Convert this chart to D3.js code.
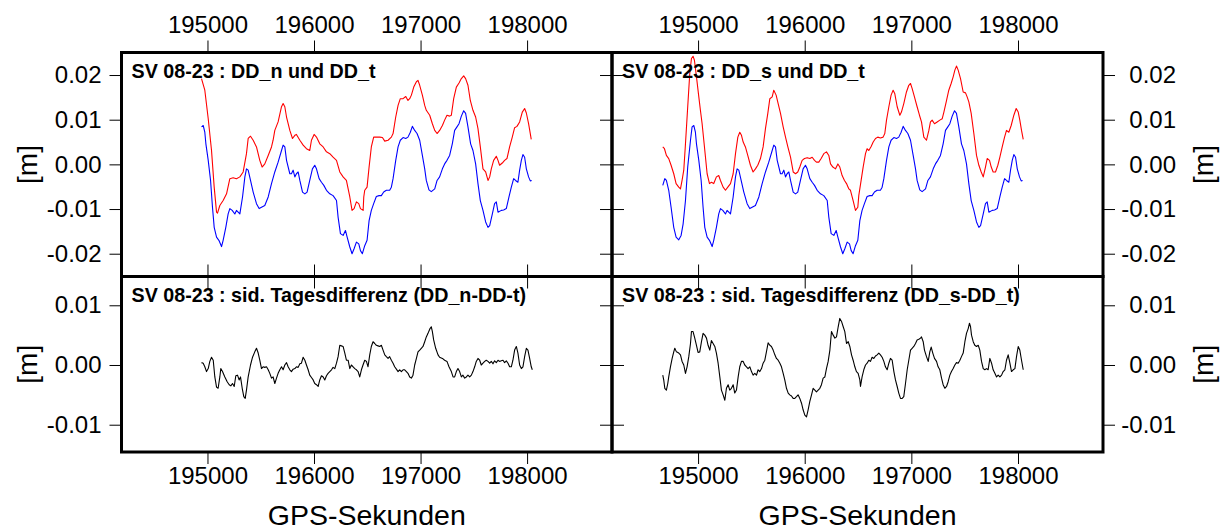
<!DOCTYPE html>
<html>
<head>
<meta charset="utf-8">
<script src="https://cdn.jsdelivr.net/npm/d3@7"></script>
<style>
  body { margin: 0; background: #fff; }
  svg { display: block; font-family: "Liberation Sans", Arial, Helvetica, sans-serif; }
</style>
</head>
<body>
<svg id="chart"></svg>
<script>
// tick values / labels
const xTicks = [195000, 196000, 197000, 198000];
const yTicksTop = [-0.02, -0.01, 0, 0.01, 0.02];
const yTicksBottom = [-0.01, 0, 0.01];
const xTitle = 'GPS-Sekunden';
const yTitle = '[m]';
const panelTitles = [
  'SV 08-23 : DD_n und DD_t',
  'SV 08-23 : DD_s und DD_t',
  'SV 08-23 : sid. Tagesdifferenz (DD_n-DD-t)',
  'SV 08-23 : sid. Tagesdifferenz (DD_s-DD_t)'
];

// [GPS seconds, metres]
const ddT = [[194669,-0.0047],[194688,-0.0032],[194703,-0.0036],[194725,-0.0058],[194747,-0.0096],[194772,-0.0141],[194794,-0.0163],[194819,-0.0169],[194841,-0.0159],[194860,-0.0133],
  [194882,-0.0081],[194903,-0.0006],[194929,0.0054],[194944,0.0084],[194960,0.0087],[194975,0.0072],[194985,0.0046],[195007,0.0009],[195029,-0.0036],[195047,-0.0096],
  [195063,-0.0141],[195085,-0.0163],[195107,-0.0170],[195132,-0.0184],[195147,-0.0170],[195172,-0.0141],[195194,-0.0111],[195210,-0.0099],[195232,-0.0103],[195257,-0.0111],
  [195272,-0.0103],[195288,-0.0107],[195304,-0.0111],[195329,-0.0073],[195351,-0.0028],[195366,-0.0010],[195382,-0.0013],[195404,-0.0036],[195429,-0.0062],[195460,-0.0088],
  [195485,-0.0099],[195507,-0.0096],[195538,-0.0092],[195570,-0.0073],[195601,-0.0043],[195632,-0.0017],[195663,0.0005],[195695,0.0031],[195710,0.0043],[195726,0.0039],
  [195742,0.0009],[195773,-0.0021],[195788,-0.0021],[195804,-0.0013],[195820,-0.0028],[195835,-0.0021],[195851,-0.0017],[195867,-0.0036],[195892,-0.0062],[195914,-0.0066],
  [195935,-0.0062],[195960,-0.0036],[195985,-0.0010],[196007,-0.0002],[196023,-0.0010],[196048,-0.0032],[196070,-0.0040],[196092,-0.0047],[196117,-0.0058],[196148,-0.0066],
  [196179,-0.0070],[196211,-0.0081],[196226,-0.0118],[196248,-0.0155],[196273,-0.0159],[196295,-0.0148],[196311,-0.0163],[196336,-0.0185],[196357,-0.0200],[196376,-0.0189],
  [196398,-0.0174],[196420,-0.0178],[196436,-0.0193],[196454,-0.0200],[196476,-0.0182],[196498,-0.0170],[196517,-0.0126],[196538,-0.0103],[196560,-0.0088],[196585,-0.0072],
  [196610,-0.0070],[196632,-0.0070],[196654,-0.0062],[196679,-0.0058],[196710,-0.0058],[196726,-0.0051],[196742,-0.0032],[196767,0.0009],[196789,0.0039],[196810,0.0054],
  [196836,0.0060],[196861,0.0058],[196882,0.0061],[196904,0.0072],[196923,0.0085],[196945,0.0076],[196967,0.0069],[196992,0.0054],[197017,0.0020],[197039,-0.0010],
  [197054,-0.0036],[197079,-0.0057],[197101,-0.0061],[197133,-0.0055],[197155,-0.0036],[197179,-0.0028],[197205,-0.0010],[197226,0.0001],[197248,0.0009],[197273,0.0020],
  [197298,0.0046],[197320,0.0076],[197342,0.0084],[197361,0.0091],[197383,0.0108],[197405,0.0120],[197423,0.0114],[197445,0.0084],[197470,0.0046],[197492,0.0031],
  [197517,0.0001],[197539,-0.0043],[197561,-0.0081],[197586,-0.0103],[197611,-0.0129],[197633,-0.0141],[197649,-0.0137],[197674,-0.0111],[197695,-0.0088],[197711,-0.0084],
  [197727,-0.0107],[197758,-0.0103],[197780,-0.0102],[197805,-0.0099],[197830,-0.0073],[197852,-0.0051],[197874,-0.0032],[197892,-0.0036],[197914,-0.0040],[197930,-0.0013],
  [197946,0.0009],[197961,0.0022],[197977,0.0016],[197993,-0.0010],[198014,-0.0028],[198030,-0.0037],[198043,-0.0036]];

const ddN = [[194944,0.0192],[194975,0.0166],[195007,0.0102],[195038,0.0031],[195063,-0.0051],[195085,-0.0107],[195094,-0.0109],[195116,-0.0092],[195147,-0.0081],[195179,-0.0066],
  [195210,-0.0032],[195241,-0.0030],[195272,-0.0032],[195304,-0.0028],[195335,-0.0017],[195366,0.0024],[195382,0.0058],[195404,0.0063],[195429,0.0054],[195460,0.0039],
  [195491,0.0009],[195513,-0.0006],[195538,0.0001],[195570,0.0020],[195601,0.0039],[195616,0.0054],[195632,0.0076],[195663,0.0095],[195695,0.0129],[195710,0.0136],
  [195726,0.0129],[195742,0.0106],[195773,0.0076],[195798,0.0058],[195820,0.0065],[195835,0.0067],[195867,0.0054],[195898,0.0043],[195929,0.0035],[195960,0.0031],
  [195976,0.0054],[196001,0.0067],[196023,0.0061],[196054,0.0046],[196086,0.0039],[196117,0.0028],[196148,0.0024],[196179,0.0016],[196211,0.0009],[196242,-0.0017],
  [196273,-0.0028],[196304,-0.0036],[196336,-0.0073],[196357,-0.0103],[196376,-0.0099],[196398,-0.0084],[196420,-0.0088],[196436,-0.0099],[196461,-0.0103],[196467,-0.0073],
  [196476,-0.0058],[196498,-0.0051],[196517,-0.0006],[196538,0.0039],[196560,0.0061],[196585,0.0061],[196617,0.0061],[196642,0.0060],[196664,0.0052],[196695,0.0054],
  [196726,0.0061],[196742,0.0069],[196767,0.0106],[196789,0.0132],[196810,0.0147],[196836,0.0147],[196861,0.0152],[196882,0.0143],[196898,0.0147],[196914,0.0155],
  [196936,0.0173],[196961,0.0185],[196976,0.0188],[196992,0.0177],[197017,0.0155],[197039,0.0132],[197054,0.0121],[197086,0.0110],[197111,0.0091],[197133,0.0076],
  [197155,0.0069],[197179,0.0076],[197205,0.0087],[197226,0.0099],[197248,0.0110],[197273,0.0108],[197289,0.0110],[197311,0.0147],[197336,0.0173],[197361,0.0182],
  [197383,0.0192],[197405,0.0198],[197423,0.0192],[197445,0.0177],[197467,0.0143],[197492,0.0121],[197517,0.0106],[197539,0.0080],[197561,0.0039],[197586,-0.0010],
  [197611,-0.0017],[197633,-0.0036],[197649,-0.0028],[197664,-0.0010],[197686,0.0009],[197711,0.0018],[197727,0.0009],[197742,-0.0002],[197767,0.0003],[197789,0.0009],
  [197811,0.0013],[197836,0.0039],[197861,0.0061],[197883,0.0082],[197905,0.0085],[197930,0.0095],[197955,0.0117],[197977,0.0125],[197993,0.0115],[198014,0.0091],
  [198030,0.0069],[198039,0.0056]];

const ddS = [[194669,0.0039],[194685,0.0035],[194703,0.0020],[194725,0.0013],[194747,-0.0002],[194772,-0.0021],[194794,-0.0043],[194819,-0.0051],[194835,-0.0055],[194850,-0.0036],
  [194866,-0.0013],[194882,0.0046],[194903,0.0129],[194922,0.0203],[194938,0.0237],[194953,0.0242],[194966,0.0233],[194985,0.0196],[195007,0.0151],[195022,0.0121],
  [195038,0.0091],[195060,0.0039],[195085,-0.0021],[195107,-0.0043],[195125,-0.0040],[195147,-0.0043],[195172,-0.0028],[195194,-0.0025],[195210,-0.0036],[195235,-0.0051],
  [195257,-0.0058],[195279,-0.0051],[195304,-0.0043],[195329,-0.0021],[195351,0.0024],[195373,0.0061],[195391,0.0072],[195407,0.0065],[195423,0.0050],[195444,0.0039],
  [195466,0.0020],[195491,-0.0002],[195516,-0.0017],[195538,-0.0010],[195560,-0.0002],[195585,0.0013],[195610,0.0039],[195632,0.0080],[195654,0.0114],[195673,0.0147],
  [195695,0.0151],[195710,0.0166],[195732,0.0155],[195751,0.0136],[195773,0.0114],[195798,0.0084],[195820,0.0061],[195842,0.0039],[195867,0.0016],[195892,-0.0017],
  [195914,-0.0021],[195935,-0.0017],[195954,-0.0006],[195976,0.0009],[195998,0.0013],[196023,0.0015],[196048,0.0013],[196070,0.0016],[196092,0.0009],[196110,0.0005],
  [196132,0.0005],[196154,0.0013],[196179,0.0024],[196204,0.0028],[196226,0.0020],[196242,0.0001],[196264,-0.0006],[196289,-0.0010],[196311,0.0001],[196329,-0.0006],
  [196351,-0.0025],[196373,-0.0036],[196392,-0.0043],[196414,-0.0055],[196429,-0.0058],[196454,-0.0081],[196476,-0.0103],[196498,-0.0096],[196507,-0.0070],[196529,-0.0036],
  [196548,-0.0006],[196570,0.0024],[196585,0.0035],[196601,0.0031],[196623,0.0040],[196642,0.0050],[196664,0.0058],[196685,0.0061],[196710,0.0059],[196735,0.0061],
  [196751,0.0069],[196767,0.0099],[196789,0.0129],[196810,0.0155],[196829,0.0166],[196845,0.0158],[196867,0.0129],[196892,0.0110],[196907,0.0117],[196929,0.0136],
  [196954,0.0162],[196976,0.0177],[196992,0.0181],[197007,0.0170],[197029,0.0151],[197054,0.0129],[197076,0.0110],[197095,0.0095],[197117,0.0061],[197142,0.0054],
  [197164,0.0076],[197179,0.0095],[197195,0.0099],[197217,0.0091],[197242,0.0095],[197267,0.0099],[197289,0.0102],[197305,0.0117],[197330,0.0143],[197351,0.0166],
  [197373,0.0181],[197392,0.0196],[197408,0.0211],[197423,0.0220],[197439,0.0211],[197461,0.0192],[197486,0.0162],[197508,0.0160],[197523,0.0151],[197539,0.0140],
  [197561,0.0114],[197586,0.0069],[197611,0.0020],[197633,-0.0002],[197655,-0.0017],[197674,-0.0028],[197695,-0.0006],[197711,0.0013],[197733,0.0009],[197749,-0.0006],
  [197767,-0.0017],[197789,-0.0017],[197811,-0.0002],[197830,0.0016],[197852,0.0039],[197874,0.0061],[197892,0.0076],[197914,0.0072],[197936,0.0087],[197961,0.0110],
  [197983,0.0125],[198002,0.0117],[198017,0.0099],[198033,0.0076],[198049,0.0056]];

const diffN = [[194944,0.0004],[194960,0.0003],[194975,-0.0003],[194991,-0.0011],[195007,-0.0006],[195022,0.0006],[195038,0.0013],[195054,0.0008],[195069,-0.0020],[195085,-0.0037],
  [195100,-0.0039],[195116,-0.0020],[195125,-0.0006],[195141,-0.0011],[195163,-0.0020],[195185,-0.0028],[195204,-0.0033],[195219,-0.0035],[195235,-0.0031],[195251,-0.0036],
  [195266,-0.0018],[195282,-0.0017],[195297,-0.0025],[195310,-0.0020],[195326,-0.0039],[195341,-0.0053],[195354,-0.0056],[195366,-0.0042],[195382,-0.0020],[195404,0.0000],
  [195423,0.0013],[195444,0.0022],[195460,0.0028],[195476,0.0020],[195491,0.0008],[195507,-0.0006],[195522,-0.0003],[195538,-0.0004],[195554,-0.0003],[195570,-0.0008],
  [195585,-0.0014],[195601,-0.0022],[195616,-0.0020],[195632,-0.0031],[195648,-0.0022],[195663,-0.0014],[195679,-0.0008],[195695,-0.0003],[195710,-0.0008],[195726,0.0000],
  [195742,0.0004],[195757,-0.0003],[195773,-0.0008],[195788,-0.0011],[195804,-0.0007],[195820,-0.0006],[195835,-0.0003],[195851,-0.0004],[195867,0.0002],[195882,0.0003],
  [195898,0.0013],[195914,0.0008],[195929,0.0000],[195945,-0.0008],[195960,-0.0017],[195976,-0.0021],[195992,-0.0025],[196007,-0.0031],[196023,-0.0033],[196039,-0.0036],
  [196054,-0.0025],[196070,-0.0018],[196086,-0.0020],[196101,-0.0025],[196117,-0.0018],[196132,-0.0014],[196148,-0.0011],[196164,-0.0008],[196179,-0.0004],[196195,-0.0006],
  [196211,0.0003],[196226,0.0014],[196242,0.0033],[196257,0.0032],[196273,0.0031],[196289,0.0020],[196304,0.0008],[196320,0.0008],[196336,-0.0006],[196351,0.0000],
  [196367,-0.0003],[196383,-0.0006],[196398,-0.0008],[196414,-0.0011],[196429,-0.0020],[196445,-0.0008],[196460,0.0000],[196476,0.0008],[196492,0.0006],[196507,-0.0003],
  [196523,0.0017],[196538,0.0031],[196554,0.0039],[196570,0.0036],[196585,0.0033],[196601,0.0032],[196617,0.0031],[196632,0.0033],[196648,0.0025],[196664,0.0017],
  [196679,0.0014],[196695,0.0011],[196710,0.0014],[196726,0.0008],[196742,0.0003],[196757,-0.0003],[196773,-0.0007],[196789,-0.0011],[196804,-0.0008],[196820,-0.0011],
  [196836,-0.0008],[196851,-0.0008],[196867,-0.0011],[196882,-0.0014],[196898,-0.0020],[196914,-0.0022],[196929,-0.0017],[196945,0.0000],[196961,0.0011],[196976,0.0022],
  [196992,0.0025],[197007,0.0028],[197023,0.0031],[197039,0.0039],[197054,0.0047],[197070,0.0053],[197086,0.0060],[197101,0.0064],[197111,0.0056],[197123,0.0042],
  [197142,0.0028],[197164,0.0017],[197179,0.0013],[197205,0.0011],[197226,0.0008],[197248,0.0006],[197267,-0.0003],[197289,-0.0011],[197305,-0.0020],[197320,-0.0020],
  [197336,-0.0011],[197351,-0.0006],[197367,-0.0011],[197383,-0.0020],[197398,-0.0017],[197414,-0.0022],[197430,-0.0020],[197445,-0.0017],[197461,-0.0020],[197477,-0.0017],
  [197492,-0.0011],[197508,-0.0003],[197523,0.0006],[197539,0.0011],[197555,0.0008],[197570,0.0000],[197586,0.0003],[197602,0.0006],[197617,0.0008],[197633,0.0006],
  [197649,0.0003],[197664,0.0006],[197680,0.0002],[197695,0.0007],[197711,0.0004],[197727,0.0008],[197742,0.0006],[197758,0.0007],[197774,0.0008],[197789,0.0004],
  [197805,0.0007],[197821,0.0003],[197836,-0.0003],[197852,-0.0003],[197867,0.0008],[197883,0.0025],[197899,0.0031],[197914,0.0020],[197930,0.0000],[197946,-0.0006],
  [197961,-0.0003],[197977,0.0014],[197993,0.0028],[198008,0.0025],[198024,0.0011],[198039,-0.0003],[198049,-0.0008]];

const diffS = [[194669,-0.0017],[194678,-0.0025],[194688,-0.0039],[194703,-0.0042],[194716,-0.0031],[194725,-0.0020],[194741,-0.0003],[194757,0.0011],[194772,0.0022],[194782,0.0028],
  [194797,0.0022],[194819,0.0020],[194835,0.0017],[194850,0.0006],[194866,0.0000],[194882,-0.0014],[194897,-0.0003],[194913,0.0014],[194929,0.0036],[194938,0.0056],
  [194953,0.0056],[194969,0.0045],[194985,0.0033],[195000,0.0021],[195016,0.0022],[195032,0.0039],[195047,0.0053],[195063,0.0050],[195079,0.0045],[195094,0.0033],
  [195110,0.0025],[195125,0.0041],[195141,0.0036],[195157,0.0031],[195172,0.0020],[195188,0.0003],[195204,-0.0020],[195219,-0.0042],[195235,-0.0050],[195251,-0.0059],
  [195266,-0.0039],[195282,-0.0033],[195297,-0.0042],[195313,-0.0039],[195329,-0.0033],[195344,-0.0047],[195360,-0.0042],[195376,-0.0020],[195391,-0.0003],[195407,0.0006],
  [195423,0.0006],[195438,0.0000],[195454,-0.0003],[195469,-0.0006],[195485,-0.0003],[195501,-0.0011],[195516,-0.0017],[195532,-0.0014],[195548,-0.0017],[195563,-0.0008],
  [195579,-0.0011],[195595,-0.0006],[195610,0.0003],[195626,0.0008],[195641,0.0022],[195657,0.0037],[195673,0.0033],[195688,0.0031],[195704,0.0025],[195720,0.0017],
  [195735,0.0011],[195751,0.0008],[195767,0.0003],[195782,-0.0003],[195798,-0.0014],[195813,-0.0025],[195829,-0.0039],[195845,-0.0047],[195860,-0.0050],[195876,-0.0052],
  [195892,-0.0056],[195907,-0.0056],[195923,-0.0053],[195938,-0.0050],[195954,-0.0056],[195970,-0.0064],[195985,-0.0075],[196001,-0.0084],[196017,-0.0087],[196032,-0.0075],
  [196048,-0.0061],[196064,-0.0050],[196079,-0.0039],[196095,-0.0042],[196110,-0.0045],[196126,-0.0042],[196142,-0.0039],[196157,-0.0033],[196173,-0.0022],[196189,-0.0020],
  [196204,-0.0006],[196220,0.0006],[196236,0.0025],[196251,0.0056],[196267,0.0050],[196283,0.0045],[196298,0.0047],[196314,0.0064],[196329,0.0078],[196345,0.0073],
  [196361,0.0064],[196376,0.0056],[196392,0.0036],[196408,0.0039],[196423,0.0031],[196439,0.0017],[196454,0.0008],[196470,-0.0003],[196485,-0.0011],[196501,-0.0014],
  [196517,-0.0025],[196523,-0.0036],[196538,-0.0020],[196554,-0.0008],[196570,0.0000],[196585,0.0003],[196601,0.0008],[196617,0.0006],[196632,0.0013],[196648,0.0011],
  [196664,0.0015],[196679,0.0017],[196695,0.0020],[196710,0.0017],[196726,0.0013],[196742,0.0006],[196757,-0.0003],[196773,-0.0008],[196789,0.0003],[196804,0.0011],
  [196820,0.0008],[196836,-0.0011],[196851,-0.0025],[196867,-0.0036],[196882,-0.0047],[196898,-0.0056],[196914,-0.0056],[196929,-0.0053],[196945,-0.0031],[196961,-0.0008],
  [196976,0.0008],[196992,0.0025],[197007,0.0028],[197023,0.0031],[197039,0.0036],[197054,0.0042],[197070,0.0043],[197086,0.0045],[197095,0.0047],[197111,0.0039],
  [197123,0.0025],[197142,0.0014],[197158,0.0006],[197173,0.0022],[197186,0.0030],[197201,0.0020],[197217,0.0011],[197236,0.0006],[197251,-0.0003],[197267,-0.0008],
  [197283,-0.0022],[197298,-0.0033],[197314,-0.0039],[197330,-0.0036],[197345,-0.0028],[197361,-0.0017],[197376,-0.0011],[197392,-0.0006],[197408,0.0000],[197423,0.0004],
  [197439,0.0003],[197455,0.0008],[197470,0.0014],[197486,0.0020],[197502,0.0039],[197517,0.0053],[197533,0.0061],[197545,0.0070],[197555,0.0064],[197564,0.0050],
  [197580,0.0039],[197595,0.0033],[197611,0.0031],[197627,0.0033],[197642,0.0025],[197658,0.0006],[197674,-0.0006],[197689,-0.0008],[197705,-0.0006],[197720,-0.0008],
  [197736,0.0011],[197752,0.0003],[197767,-0.0008],[197783,-0.0014],[197799,-0.0020],[197814,-0.0017],[197830,-0.0020],[197846,-0.0017],[197861,-0.0011],[197877,-0.0008],
  [197892,0.0008],[197908,0.0017],[197924,0.0003],[197939,-0.0011],[197955,-0.0008],[197971,-0.0006],[197986,0.0014],[198002,0.0031],[198017,0.0025],[198033,0.0008],
  [198049,-0.0008]];

const width = 1221;
const height = 531;
const font = '"Liberation Sans", Arial, Helvetica, sans-serif';

// panel edges in px
const colX = [[121.5, 612], [612, 1103]];
const rowY = [[52.5, 276.5], [276.5, 452]];

const svg = d3.select('#chart')
    .attr('width', width)
    .attr('height', height);

const xScale = c => d3.scaleLinear().domain([194193, 198797]).range(colX[c]);
const yTop = d3.scaleLinear().domain([-0.0251, 0.02504]).range([rowY[0][1], rowY[0][0]]);
const yBottom = d3.scaleLinear().domain([-0.01457, 0.01482]).range([rowY[1][1], rowY[1][0]]);
const yScales = [yTop, yBottom];
const yTickSets = [yTicksTop, yTicksBottom];

// left panel only shows DD_t where DD_n exists
const ddTLeft = ddT.filter(d => d[0] >= ddN[0][0]);

const panels = [
    { col: 0, row: 0, title: panelTitles[0], lines: [{ data: ddN, color: '#ff0000' }, { data: ddTLeft, color: '#0000ff' }] },
    { col: 1, row: 0, title: panelTitles[1], lines: [{ data: ddS, color: '#ff0000' }, { data: ddT, color: '#0000ff' }] },
    { col: 0, row: 1, title: panelTitles[2], lines: [{ data: diffN, color: '#000000' }] },
    { col: 1, row: 1, title: panelTitles[3], lines: [{ data: diffS, color: '#000000' }] }
];

const styleAxis = g => {
    g.select('.domain').remove();
    g.attr('font-size', 24).attr('font-family', font);
    g.selectAll('.tick line').attr('stroke', '#000').attr('stroke-width', 1);
    g.selectAll('.tick text').attr('fill', '#000');
};

panels.forEach((p, i) => {
    const x = xScale(p.col);
    const y = yScales[p.row];
    const [x0, x1] = colX[p.col];
    const [y0, y1] = rowY[p.row];

    svg.append('clipPath').attr('id', 'clip' + i)
        .append('rect').attr('x', x0).attr('y', y0).attr('width', x1 - x0).attr('height', y1 - y0);

    const line = d3.line()
        .x(d => x(d[0]))
        .y(d => y(d[1]));

    const g = svg.append('g').attr('clip-path', `url(#clip${i})`);
    p.lines.forEach(l => {
        g.append('path')
            .datum(l.data)
            .attr('d', line)
            .attr('fill', 'none')
            .attr('stroke', l.color)
            .attr('stroke-width', 1.1)
            .attr('stroke-linejoin', 'round');
    });

    svg.append('text')
        .attr('x', x0 + 10)
        .attr('y', y0 + 25)
        .attr('font-family', font)
        .attr('font-size', 19.7)
        .attr('font-weight', 'bold')
        .text(p.title);
});

// x axes: labelled on the outside, bare ticks across the middle line
[0, 1].forEach(c => {
    const x = xScale(c);
    svg.append('g')
        .attr('transform', `translate(0,${rowY[0][0]})`)
        .call(d3.axisTop(x).tickValues(xTicks).tickSize(12).tickPadding(8).tickFormat(d3.format('d')))
        .call(styleAxis);
    svg.append('g')
        .attr('transform', `translate(0,${rowY[1][1]})`)
        .call(d3.axisBottom(x).tickValues(xTicks).tickSize(12).tickPadding(3).tickFormat(d3.format('d')))
        .call(styleAxis);
    [d3.axisTop, d3.axisBottom].forEach(ax => {
        svg.append('g')
            .attr('transform', `translate(0,${rowY[0][1]})`)
            .call(ax(x).tickValues(xTicks).tickSize(12).tickFormat(''))
            .call(styleAxis);
    });
});

// y axes
[0, 1].forEach(r => {
    const y = yScales[r];
    const fmt = d => d.toFixed(2);
    svg.append('g')
        .attr('transform', `translate(${colX[0][0]},0)`)
        .call(d3.axisLeft(y).tickValues(yTickSets[r]).tickSize(12).tickPadding(8).tickFormat(fmt))
        .call(styleAxis);
    svg.append('g')
        .attr('transform', `translate(${colX[1][1]},0)`)
        .call(d3.axisRight(y).tickValues(yTickSets[r]).tickSize(12).tickPadding(8).tickFormat(fmt))
        .call(styleAxis)
        .call(g => g.selectAll('.tick text').attr('text-anchor', 'end').attr('x', 73));
    [d3.axisLeft, d3.axisRight].forEach(ax => {
        svg.append('g')
            .attr('transform', `translate(${colX[0][1]},0)`)
            .call(ax(y).tickValues(yTickSets[r]).tickSize(12).tickFormat(''))
            .call(styleAxis);
    });

    [27, 1203].forEach(cx => {
        const cy = (rowY[r][0] + rowY[r][1]) / 2;
        svg.append('text')
            .attr('transform', `translate(${cx},${cy}) rotate(-90)`)
            .attr('text-anchor', 'middle')
            .attr('dy', '0.35em')
            .attr('font-family', font)
            .attr('font-size', 28)
            .text(yTitle);
    });
});

[0, 1].forEach(c => {
    svg.append('text')
        .attr('x', (colX[c][0] + colX[c][1]) / 2)
        .attr('y', 525)
        .attr('text-anchor', 'middle')
        .attr('font-family', font)
        .attr('font-size', 28.5)
        .text(xTitle);
});

// panel frames on top
panels.forEach(p => {
    const [x0, x1] = colX[p.col];
    const [y0, y1] = rowY[p.row];
    svg.append('rect')
        .attr('x', x0).attr('y', y0)
        .attr('width', x1 - x0).attr('height', y1 - y0)
        .attr('fill', 'none')
        .attr('stroke', '#000')
        .attr('stroke-width', 3);
});
</script>
</body>
</html>
